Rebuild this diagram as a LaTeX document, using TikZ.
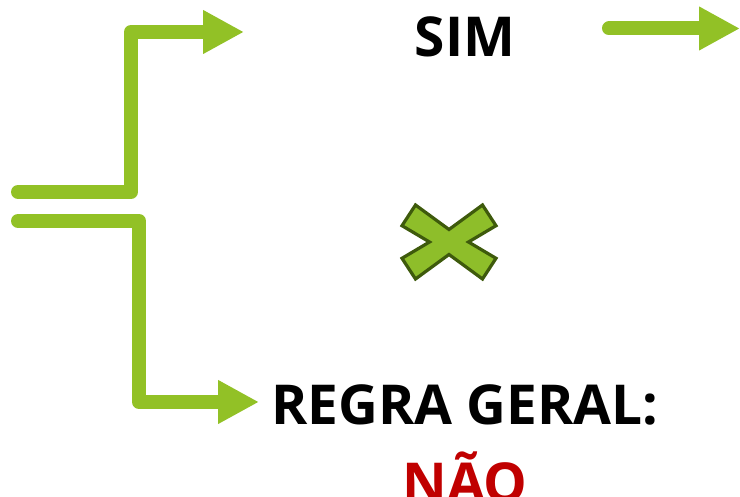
\documentclass[tikz,border=0pt]{standalone}
\usepackage{fontspec}
\setmainfont{Open Sans}
\usepackage{tikz}
\usetikzlibrary{arrows.meta,positioning}
\definecolor{limegreen}{RGB}{146,193,38}
\definecolor{crossgreen}{RGB}{142,190,42}
\definecolor{crossedge}{RGB}{62,90,12}
\definecolor{darkred}{RGB}{192,0,0}
\tikzstyle{branch}  = [line width=14pt, limegreen, line cap=round, line join=round, -{Triangle[length=41pt,width=41pt]}]
\tikzstyle{answer}  = [anchor=base, inner sep=0pt, font=\fontsize{55}{60}\selectfont\bfseries]
\tikzstyle{crossmark} = [fill=crossgreen, draw=crossedge, line width=3.2pt, line join=miter]

\begin{document}
\begin{tikzpicture}[x=1pt,y=1pt]
		\useasboundingbox (0,0) rectangle (740,497);

		% end points of the branches
		\coordinate (topin)  at (18,305);
		\coordinate (topbend) at (131,305);
		\coordinate (topup)  at (131,465);
		\coordinate (topout) at (244,465);
		\coordinate (lowin)  at (18,276);
		\coordinate (lowbend) at (139,276);
		\coordinate (lowdown) at (139,95);
		\coordinate (lowout) at (259,95);
		\coordinate (simout) at (609,468.5);
		\coordinate (simend) at (740,468.5);

		\node[answer] (sim) at (465,440) {SIM};
		\node[answer] (regra) at (465,72) {REGRA GERAL:};
		\node[answer, darkred] (nao) at (465,-6) {NÃO};

		\draw[branch] (topin) -- (topbend) -- (topup) -- (topout);
		\draw[branch] (lowin) -- (lowbend) -- (lowdown) -- (lowout);
		\draw[branch] (simout) -- (simend);

		% the cross
		\draw[crossmark, shift={(449,255)}] (-33.5,37) -- (0,12.5) -- (33.5,37) -- (47,16.3) -- (19.5,0)
			-- (47,-16.3) -- (33.5,-37) -- (0,-12.5) -- (-33.5,-37) -- (-47,-16.3) -- (-19.5,0)
			-- (-47,16.3) -- cycle;
	\end{tikzpicture}
\end{document}
